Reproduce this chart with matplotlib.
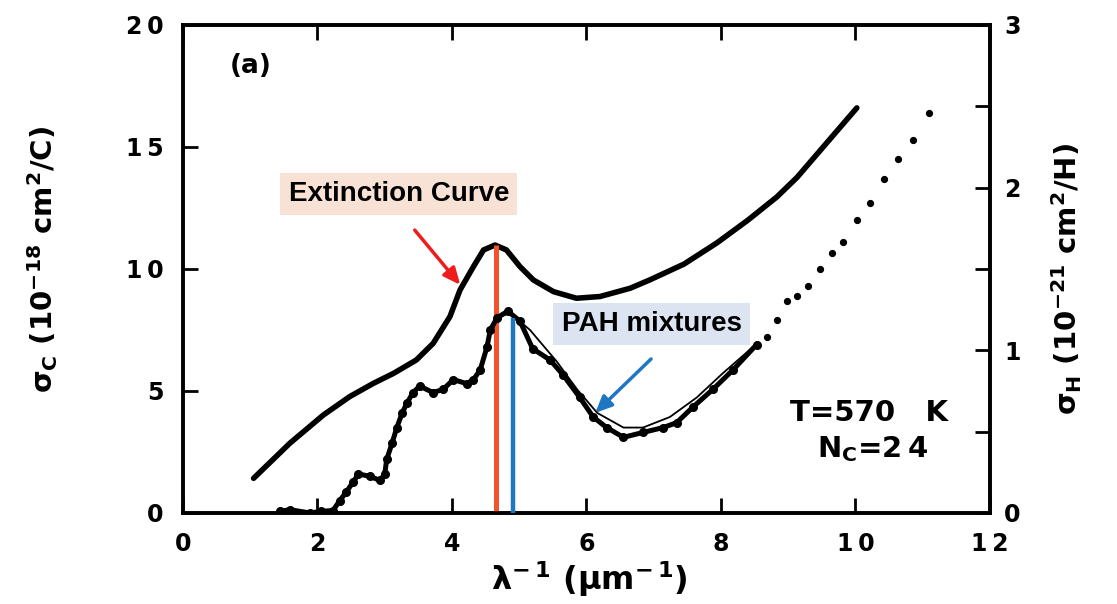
import matplotlib
matplotlib.use("Agg")
import matplotlib.pyplot as plt

plt.rcParams['font.family'] = ['DejaVu Sans']
plt.rcParams['font.weight'] = 'bold'
plt.rcParams['axes.labelweight'] = 'bold'
plt.rcParams['mathtext.fontset'] = 'custom'
plt.rcParams['mathtext.rm'] = 'DejaVu Sans:bold'
plt.rcParams['mathtext.it'] = 'DejaVu Sans:bold'
plt.rcParams['mathtext.bf'] = 'DejaVu Sans:bold'
plt.rcParams['mathtext.default'] = 'rm'

# extinction curve, sigma_C (1e-18 cm^2/C)
ext_x = [1.05, 1.59, 2.09, 2.48, 2.83, 3.13, 3.47, 3.72, 3.97, 4.12, 4.32, 4.47,
         4.64, 4.81, 5.01, 5.21, 5.51, 5.85, 6.2, 6.65, 6.94, 7.45, 7.94, 8.4,
         8.83, 9.13, 9.52, 10.02]
ext_y = [1.42, 2.86, 4.02, 4.77, 5.31, 5.72, 6.27, 6.95, 8.05, 9.14, 10.1, 10.78,
         10.98, 10.78, 10.1, 9.55, 9.07, 8.8, 8.87, 9.21, 9.55, 10.2, 11.07, 12.0,
         12.95, 13.75, 15.0, 16.6]

# PAH mixture data, sigma_H (1e-21 cm^2/H)
pah_x = [1.44, 1.59, 1.89, 2.05, 2.23, 2.33, 2.43, 2.53, 2.61, 2.78, 2.93, 3.0,
         3.03, 3.11, 3.18, 3.26, 3.33, 3.42, 3.52, 3.72, 3.87, 4.02, 4.22, 4.32,
         4.42, 4.52, 4.57, 4.67, 4.83, 5.01, 5.2, 5.46, 5.65, 5.9, 6.1, 6.3, 6.55,
         6.84, 7.14, 7.34, 7.58, 7.88, 8.18, 8.53]
pah_y = [0.01, 0.02, 0.0, 0.01, 0.015, 0.075, 0.13, 0.19, 0.24, 0.225, 0.2, 0.24,
         0.33, 0.43, 0.525, 0.615, 0.675, 0.74, 0.78, 0.74, 0.76, 0.82, 0.795, 0.82,
         0.88, 1.02, 1.125, 1.2, 1.24, 1.18, 1.01, 0.94, 0.85, 0.71, 0.59, 0.525, 0.465,
         0.495, 0.525, 0.555, 0.65, 0.76, 0.88, 1.035]

# sparse points past the fit range
pah_far_x = [8.68, 8.83, 8.98, 9.13, 9.29, 9.47, 9.65, 9.82, 10.02, 10.22,
             10.42, 10.63, 10.86, 11.1]
pah_far_y = [1.08, 1.185, 1.3, 1.335, 1.395, 1.5, 1.6, 1.665, 1.8, 1.905,
             2.055, 2.175, 2.295, 2.46]

# model fit (thin line)
fit_x = [4.6, 4.67, 4.86, 5.16, 5.56, 5.86, 6.16, 6.55, 6.84, 7.24, 7.64, 8.03, 8.53]
fit_y = [1.12, 1.2, 1.23, 1.125, 0.93, 0.76, 0.615, 0.525, 0.525, 0.59, 0.71, 0.86, 1.04]

# bump peak positions
ext_peak = (4.65, 11.0)
pah_peak = (4.91, 1.2)

fig = plt.figure(figsize=(11.17, 6.04), dpi=100)
ax = fig.add_axes([0.1638, 0.1507, 0.7225, 0.808])
ax2 = ax.twinx()

ax.set_xlim(0, 12)
ax.set_ylim(0, 20)
ax2.set_ylim(0, 3)

ax.plot(ext_x, ext_y, color='black', lw=4.0, solid_capstyle='round',
        solid_joinstyle='round')
ax2.plot(pah_x, pah_y, color='black', lw=3.6, marker='o', ms=5.5,
         solid_joinstyle='round')
ax2.plot(fit_x, fit_y, color='black', lw=1.3)
ax2.plot(pah_far_x, pah_far_y, ls='none', color='black', marker='o', ms=4.2)

ax.vlines(ext_peak[0], 0, ext_peak[1], color='#F4522A', lw=3.6, zorder=5)
ax2.vlines(pah_peak[0], 0, pah_peak[1], color='#1F77C4', lw=3.2, zorder=5)

ax.text(3.21, 13.07, 'Extinction Curve', fontsize=20, ha='center', va='center',
        family='Liberation Sans',
        bbox=dict(boxstyle='square,pad=0.3', fc='#F8E2D5', ec='none'))
ax.annotate('', xy=(4.15, 9.26), xytext=(3.42, 11.68),
            arrowprops=dict(arrowstyle='-|>,head_length=1.0,head_width=0.45',
                            color='#EE1C1C', lw=2.5))
ax.text(6.97, 7.75, 'PAH mixtures', fontsize=20, ha='center', va='center',
        family='Liberation Sans',
        bbox=dict(boxstyle='square,pad=0.3', fc='#DCE4F2', ec='none'), zorder=6)
ax.annotate('', xy=(6.10, 4.02), xytext=(6.99, 6.39),
            arrowprops=dict(arrowstyle='-|>,head_length=1.0,head_width=0.45',
                            color='#1F77C4', lw=2.5))

ax.text(1.0, 18.3, '(a)', fontsize=19, ha='center', va='center')
ax.text(10.2, 4.1, 'T=570   K', fontsize=21, ha='center', va='center')
ax.text(10.26, 2.6, 'N$_\\mathrm{C}$=2\u20094', fontsize=21, ha='center', va='center')

ax.set_xticks([0, 2, 4, 6, 8, 10, 12])
ax.set_xticklabels(['0', '2', '4', '6', '8', '1\u20090', '1\u20092'])
ax.set_yticks([0, 5, 10, 15, 20])
ax.set_yticklabels(['0', '5', '1\u20090', '1\u20095', '2\u20090'])
ax2.set_yticks([0, 1, 2, 3])
ax2.set_yticklabels(['0', '1', '2', '3'])
ax2.set_yticks([0.5, 1.5, 2.5], minor=True)

ax.tick_params(axis='x', which='both', direction='in', top=True, length=11, width=2,
               labelsize=17, pad=14)
ax.tick_params(axis='y', direction='in', length=11, width=2, labelsize=17, pad=14)
ax2.tick_params(axis='y', which='both', direction='in', length=11, width=2,
                labelsize=17, pad=10)

for a in (ax, ax2):
    for s in a.spines.values():
        s.set_linewidth(2.6)

ax.set_xlabel('λ$^{-\u20091}$ (μm$^{-\u20091}$)', fontsize=23)
ax.xaxis.set_label_coords(0.504, -0.095)
ax.set_ylabel('σ$_\\mathrm{C}$ (10$^{-18}$ cm$^2$/C)', fontsize=21)
ax.yaxis.set_label_coords(-0.152, 0.52)
ax2.set_ylabel('σ$_\\mathrm{H}$ (10$^{-21}$ cm$^2$/H)', fontsize=21, rotation=90)
ax2.yaxis.set_label_coords(1.074, 0.48)

fig.savefig('out.png', dpi=100)
